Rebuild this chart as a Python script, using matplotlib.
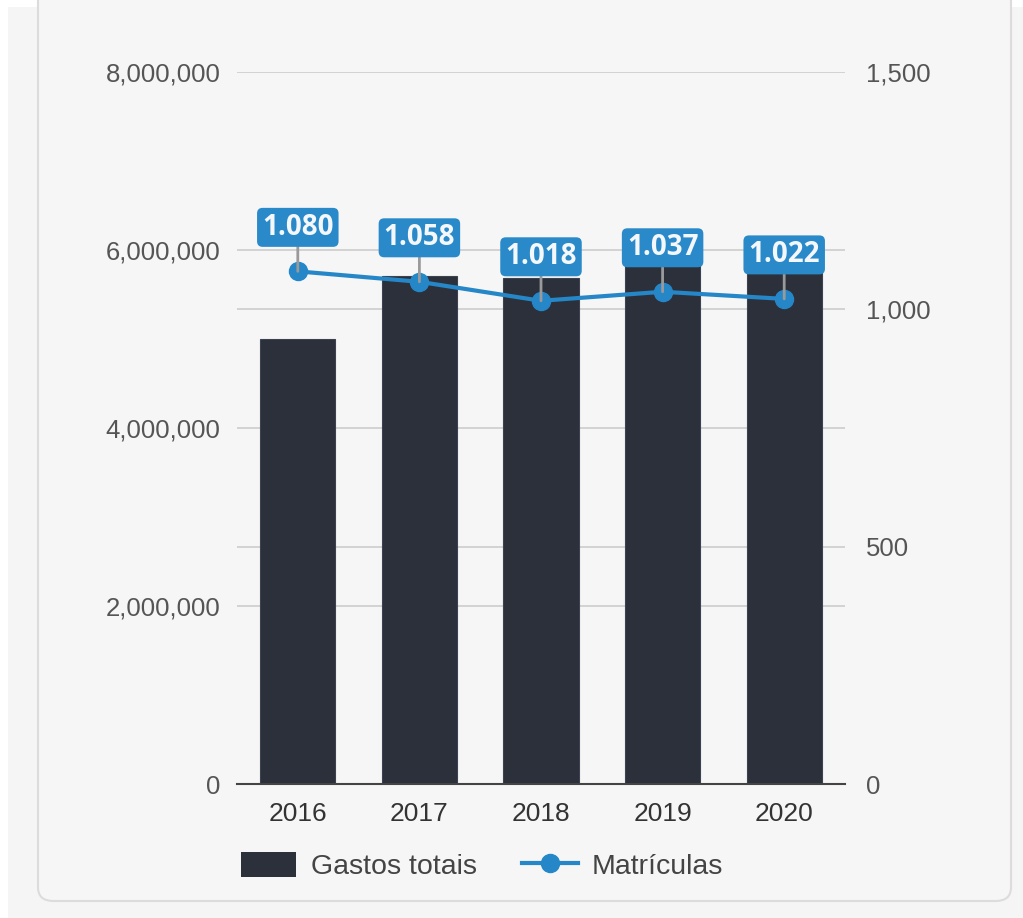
import matplotlib.pyplot as plt
from matplotlib.patches import FancyBboxPatch, Rectangle
from matplotlib.ticker import FuncFormatter

years = ['2016', '2017', '2018', '2019', '2020']
gastos = [5000000, 5710000, 5680000, 5900000, 5820000]
matriculas = [1080, 1058, 1018, 1037, 1022]

bar_color = '#2b303b'
line_color = '#2587c7'
txt_color = '#555555'

plt.rcParams['font.family'] = ['Liberation Sans', 'DejaVu Sans']

fig = plt.figure(figsize=(10.23, 9.18), dpi=100, facecolor='white')
W, H = 1023, 918

# page background and card
fig.patches.append(Rectangle((8 / W, 0), 1, 1 - 7 / H, transform=fig.transFigure,
                             facecolor='#f5f5f5', edgecolor='none', zorder=-3))
fig.patches.append(FancyBboxPatch((38 / W, 17 / H), (1011 - 38) / W, 1.1,
                                  boxstyle='round,pad=0,rounding_size=0.015',
                                  transform=fig.transFigure, facecolor='#f6f6f6',
                                  edgecolor='#dcdcdc', linewidth=1.5, zorder=-2))

ax = fig.add_axes([237 / W, 1 - 784 / H, (845 - 237) / W, (784 - 72) / H])
ax.set_facecolor('none')
ax2 = ax.twinx()

x = list(range(len(years)))
ax.bar(x, gastos, width=0.62, color=bar_color, edgecolor='#3c4250', linewidth=0.8, zorder=2)
ax.set_xlim(-0.5, 4.5)
ax.set_ylim(0, 8000000)
ax.set_yticks([0, 2000000, 4000000, 6000000, 8000000])
ax.yaxis.set_major_formatter(FuncFormatter(lambda v, p: f'{int(v):,}'))
ax.set_xticks(x)
ax.set_xticklabels(years)

ax2.set_ylim(0, 1500)
ax2.set_yticks([0, 500, 1000, 1500])
ax2.yaxis.set_major_formatter(FuncFormatter(lambda v, p: f'{int(v):,}'))

# grid lines for both axes, drawn under bars
for v in [2000000, 4000000, 6000000, 8000000]:
    ax.axhline(v, color='#cccccc', linewidth=1.2, zorder=1)
for v in [500, 1000]:
    ax.axhline(v * 8000000 / 1500, color='#cccccc', linewidth=1.2, zorder=1)

for a in (ax, ax2):
    for s in a.spines.values():
        s.set_visible(False)
    a.tick_params(length=0, labelsize=18.5, labelcolor=txt_color)
ax.spines['bottom'].set_visible(True)
ax.spines['bottom'].set_color('#444444')
ax.spines['bottom'].set_linewidth(1.5)
ax.tick_params(axis='y', pad=12)
ax.tick_params(axis='x', pad=13, labelcolor='#333333', labelsize=19)
ax2.tick_params(axis='y', pad=15)

# line series on top of bars
ax.set_zorder(1)
ax2.set_zorder(2)
ax2.patch.set_visible(False)
ax2.plot(x, matriculas, color=line_color, linewidth=3, marker='o', markersize=13, zorder=3)

for xi, m in zip(x, matriculas):
    lbl = f'{m:,}'.replace(',', '.')
    ax2.annotate(lbl, (xi, m), xytext=(0, 44), textcoords='offset pixels',
                 ha='center', va='center', color='#f4f8fc', fontsize=20,
                 fontweight='bold', family='Open Sans', zorder=5,
                 bbox=dict(boxstyle='round,pad=0.18,rounding_size=0.2',
                           facecolor='#2a8ac9', edgecolor='none'),
                 arrowprops=dict(arrowstyle='-', color='#9a9a9a', linewidth=2,
                                 shrinkA=0, shrinkB=0))

# legend
h1 = Rectangle((0, 0), 1, 1, facecolor=bar_color, edgecolor='none')
h2, = ax2.plot([], [], color=line_color, linewidth=3, marker='o', markersize=13)
fig.legend([h1, h2], ['Gastos totais', 'Matrículas'], loc='center',
           bbox_to_anchor=(482 / W, 1 - 866 / H), ncol=2, frameon=False,
           fontsize=20.5, labelcolor='#444444', handlelength=1.95, handleheight=0.95,
           handletextpad=0.5, columnspacing=1.6)

fig.savefig('out.png', dpi=100, facecolor=fig.get_facecolor())
